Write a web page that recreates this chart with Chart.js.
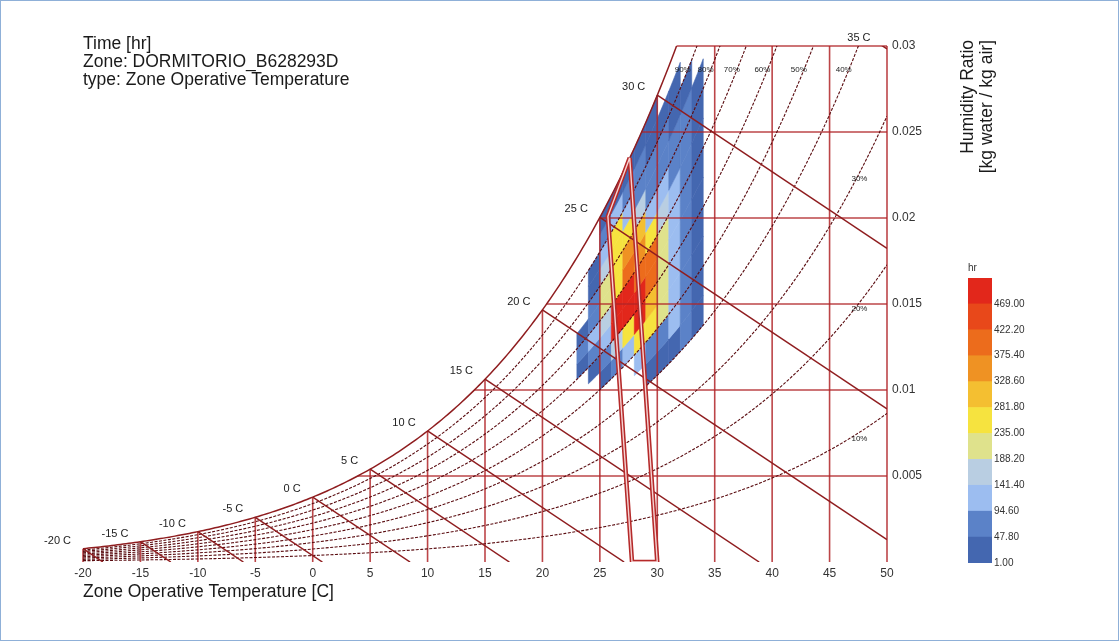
<!DOCTYPE html>
<html>
<head>
<meta charset="utf-8">
<title>Psychrometric chart</title>
<script src="https://cdn.jsdelivr.net/npm/chart.js@4.4.1/dist/chart.umd.min.js"></script>
<style>
    html, body { margin: 0; padding: 0; background: #fff; }
    #wrap { position: relative; width: 1119px; height: 641px; overflow: hidden; }
    #wrap canvas { position: absolute; }
    #main { left: 0; top: 0; }
    #scale { left: 955px; top: 258px; }
    #frame { position: absolute; left: 0; top: 0; width: 1119px; height: 641px; box-sizing: border-box; border: 1px solid #8fb0d8; pointer-events: none; }
</style>
</head>
<body>
<div id="wrap">
    <canvas id="main" width="1119" height="641"></canvas>
    <canvas id="scale" width="92" height="313"></canvas>
    <div id="frame"></div>
</div>
<script>
// axes
var xTicks = [-20, -15, -10, -5, 0, 5, 10, 15, 20, 25, 30, 35, 40, 45, 50];
var yTicks = [0.005, 0.01, 0.015, 0.02, 0.025, 0.03];

// psychrometric construction lines
var rhLevels = [10, 20, 30, 40, 50, 60, 70, 80, 90];
var dryBulbLines = [-20, -15, -10, -5, 0, 5, 10, 15, 20, 25, 30, 35, 40, 45];
var wetBulbLines = [-20, -15, -10, -5, 0, 5, 10, 15, 20, 25, 30, 35];

// comfort zone outline (operative temp, humidity ratio)
var comfortT = [27.6, 25.7, 27.8, 30.0];
var comfortW = [0.0235, 0.0201, 0, 0];

// histogram bins: temperature columns x relative humidity rows
var tempEdges = [23, 24, 25, 26, 27, 28, 29, 30, 31, 32, 33, 34];
var rhEdges = [35, 40, 45, 50, 55, 60, 65, 70, 75, 80, 85, 90, 95, 100];
// hours per cell, one row per temperature bin, RH bins low -> high
var hours = [
    [0, 0, 0, 0, 0, 21, 63, 14, 0, 0, 0, 0, 0],
    [0, 0, 0, 0, 31, 72, 108, 83, 61, 38, 19, 0, 0],
    [0, 0, 0, 22, 63, 104, 152, 203, 232, 171, 118, 77, 28],
    [0, 0, 0, 71, 152, 486, 472, 262, 268, 251, 247, 96, 24],
    [0, 0, 0, 121, 253, 503, 481, 391, 362, 263, 132, 69, 22],
    [0, 0, 109, 244, 478, 489, 412, 368, 302, 153, 89, 58, 19],
    [0, 31, 82, 252, 304, 392, 381, 262, 139, 88, 61, 38, 14],
    [0, 36, 91, 208, 221, 226, 214, 162, 108, 71, 49, 21, 0],
    [0, 41, 103, 118, 129, 138, 124, 116, 82, 59, 38, 14, 0],
    [0, 57, 73, 69, 82, 77, 71, 68, 62, 52, 19, 0, 0],
    [0, 22, 38, 41, 35, 29, 33, 27, 18, 11, 0, 0, 0]
];

// colour scale
var legendTicks = [1, 47.8, 94.6, 141.4, 188.2, 235, 281.8, 328.6, 375.4, 422.2, 469];
var legendColors = ['#4467b0', '#5b82c8', '#9cbdf0', '#b9cee2', '#dfe28c', '#f6e33f',
    '#f4bf31', '#ef9223', '#ec6c1c', '#e8481a', '#e2271b'];
var LEGEND_STEP = legendTicks[1] - legendTicks[0];

Chart.defaults.font.family = "'Liberation Sans', Arial, sans-serif";

var P_ATM = 101325;
var WB_SLOPE = 1.006 / 2260;
var GRID_RED = 'rgba(176,36,40,0.85)';

function satW(t) {
    var pws = 610.94 * Math.exp(17.625 * t / (t + 243.04));
    return 0.621945 * pws / (P_ATM - pws);
}

function tempAt(w, rh) {
    var lo = -40, hi = 80;
    for (var i = 0; i < 60; i++) {
        var mid = (lo + hi) / 2;
        if (rh * satW(mid) < w) lo = mid; else hi = mid;
    }
    return (lo + hi) / 2;
}

function heatColor(v) {
    var i = Math.floor((v - legendTicks[0]) / LEGEND_STEP);
    return legendColors[Math.max(0, Math.min(legendColors.length - 1, i))];
}

function line(points, color, width, dash, order, clip) {
    return {
        data: points,
        showLine: true,
        borderColor: color,
        borderWidth: width,
        borderDash: dash || [],
        pointRadius: 0,
        fill: false,
        tension: 0,
        order: order,
        clip: clip === undefined ? 0 : clip
    };
}

var datasets = [];

// comfort zone, drawn twice for the double-line look
var comfortPts = comfortT.map(function (t, i) { return {x: t, y: comfortW[i]}; });
comfortPts.push(comfortPts[0]);
datasets.push(line(comfortPts, '#f6d3d3', 1.4, null, 0));
datasets.push(line(comfortPts, '#b52a2a', 4.5, null, 1));

// relative humidity curves
rhLevels.forEach(function (rh) {
    var pts = [];
    for (var t = -20; t <= 50; t += 0.5) pts.push({x: t, y: rh / 100 * satW(t)});
    datasets.push(line(pts, '#5a0c10', 1.1, [3, 1.5], 3));
});

// saturation curve
var satPts = [];
for (var t = -20; t <= 33; t += 0.25) satPts.push({x: t, y: satW(t)});
datasets.push(line(satPts, '#8f1d1f', 1.5, null, 2));

// dry bulb verticals
dryBulbLines.forEach(function (t) {
    datasets.push(line([{x: t, y: 0}, {x: t, y: Math.min(satW(t), 0.03)}], GRID_RED, 1.6, null, 4, 2));
});
datasets.push(line([{x: 50, y: 0}, {x: 50, y: 0.03}], GRID_RED, 1.6, null, 4, 2));

// humidity ratio horizontals
yTicks.forEach(function (w) {
    datasets.push(line([{x: tempAt(w, 1), y: w}, {x: 50, y: w}], GRID_RED, 1.6, null, 4, 2));
});

// wet bulb lines
wetBulbLines.forEach(function (t) {
    var ws = satW(t);
    var tEnd = Math.min(50, t + ws / WB_SLOPE);
    datasets.push(line([{x: t, y: ws}, {x: tEnd, y: ws - WB_SLOPE * (tEnd - t)}], '#8f1d1f', 1.5, null, 2));
});

var heatmapPlugin = {
    id: 'heatmap',
    beforeDatasetsDraw: function (chart) {
        var ctx = chart.ctx, area = chart.chartArea;
        var xs = chart.scales.x, ys = chart.scales.y;
        ctx.save();
        ctx.beginPath();
        ctx.rect(area.left, area.top, area.right - area.left, area.bottom - area.top);
        ctx.clip();
        hours.forEach(function (row, i) {
            var t0 = tempEdges[i], t1 = tempEdges[i + 1];
            row.forEach(function (v, j) {
                if (!v) return;
                var r0 = rhEdges[j] / 100, r1 = rhEdges[j + 1] / 100;
                ctx.beginPath();
                for (var k = 0; k <= 6; k++) {
                    var t = t0 + (t1 - t0) * k / 6;
                    var px = xs.getPixelForValue(t), py = ys.getPixelForValue(r0 * satW(t));
                    if (k === 0) ctx.moveTo(px, py); else ctx.lineTo(px, py);
                }
                for (var k2 = 6; k2 >= 0; k2--) {
                    var t2 = t0 + (t1 - t0) * k2 / 6;
                    ctx.lineTo(xs.getPixelForValue(t2), ys.getPixelForValue(r1 * satW(t2)));
                }
                ctx.closePath();
                ctx.fillStyle = heatColor(v);
                ctx.strokeStyle = heatColor(v);
                ctx.lineWidth = 0.6;
                ctx.fill();
                ctx.stroke();
            });
        });
        ctx.restore();
    }
};

var labelPlugin = {
    id: 'labels',
    afterDatasetsDraw: function (chart) {
        var ctx = chart.ctx, area = chart.chartArea;
        var xs = chart.scales.x, ys = chart.scales.y;
        var fam = Chart.defaults.font.family;
        ctx.save();
        ctx.fillStyle = '#222';
        ctx.textBaseline = 'middle';

        // saturation temperature labels
        ctx.font = '11px ' + fam;
        ctx.textAlign = 'right';
        wetBulbLines.forEach(function (t) {
            var ws = satW(t), tx = t, wy = ws;
            if (ws > 0.03) { tx = t + (ws - 0.03) / WB_SLOPE; wy = 0.03; }
            ctx.fillText(t + ' C', xs.getPixelForValue(tx) - 12, ys.getPixelForValue(wy) - 8);
        });

        // relative humidity labels
        ctx.font = '8px ' + fam;
        ctx.textAlign = 'center';
        rhLevels.forEach(function (rh) {
            if (rh >= 40) {
                var tt = tempAt(0.0286, rh / 100);
                ctx.fillText(rh + '%', xs.getPixelForValue(tt) - 5, ys.getPixelForValue(0.0286));
            } else {
                ctx.fillText(rh + '%', xs.getPixelForValue(47.6), ys.getPixelForValue(rh / 100 * satW(47.6)) + 6);
            }
        });

        // header text
        ctx.font = '17.5px ' + fam;
        ctx.textAlign = 'left';
        ctx.fillStyle = '#1a1a1a';
        ['Time [hr]', 'Zone: DORMITORIO_B628293D', 'type: Zone Operative Temperature'].forEach(function (s, i) {
            ctx.fillText(s, area.left, 44 + i * 18);
        });

        // humidity ratio axis title, rotated
        ['Humidity Ratio', '[kg water / kg air]'].forEach(function (s, i) {
            ctx.save();
            ctx.translate(968 + i * 19, 40);
            ctx.rotate(-Math.PI / 2);
            ctx.textAlign = 'right';
            ctx.fillText(s, 0, 0);
            ctx.restore();
        });
        ctx.restore();
    }
};

new Chart(document.getElementById('main'), {
    type: 'scatter',
    data: {datasets: datasets},
    options: {
        responsive: false,
        animation: false,
        devicePixelRatio: 1,
        layout: {padding: {left: 83, top: 46, right: 182, bottom: 34}},
        plugins: {
            legend: {display: false},
            tooltip: {enabled: false}
        },
        scales: {
            x: {
                type: 'linear',
                min: -20,
                max: 50,
                grid: {display: false, drawTicks: false},
                border: {display: false},
                ticks: {padding: 4, color: '#333', font: {size: 12}, maxRotation: 0},
                afterBuildTicks: function (s) { s.ticks = xTicks.map(function (v) { return {value: v}; }); },
                afterFit: function (s) { s.height = 45; },
                title: {
                    display: true,
                    text: 'Zone Operative Temperature [C]',
                    align: 'start',
                    color: '#1a1a1a',
                    font: {size: 17.5},
                    padding: {top: 0, bottom: 4}
                }
            },
            y: {
                type: 'linear',
                position: 'right',
                min: 0,
                max: 0.03,
                grid: {display: false, drawTicks: false},
                border: {display: false},
                ticks: {
                    padding: 5,
                    color: '#333',
                    font: {size: 12},
                    callback: function (v) { return String(v); }
                },
                afterBuildTicks: function (s) { s.ticks = yTicks.map(function (v) { return {value: v}; }); },
                afterFit: function (s) { s.width = 50; }
            }
        }
    },
    plugins: [heatmapPlugin, labelPlugin]
});

// colour bar
new Chart(document.getElementById('scale'), {
    type: 'bar',
    data: {
        labels: ['hr'],
        datasets: legendColors.map(function (c, i) {
            return {
                data: [[legendTicks[i], legendTicks[i] + LEGEND_STEP]],
                backgroundColor: c,
                borderWidth: 0,
                barPercentage: 1,
                categoryPercentage: 1
            };
        })
    },
    options: {
        responsive: false,
        animation: false,
        devicePixelRatio: 1,
        layout: {padding: {left: 13, right: 0, top: 0, bottom: 8}},
        plugins: {
            legend: {display: false},
            tooltip: {enabled: false},
            title: {
                display: true,
                text: 'hr',
                align: 'start',
                color: '#333',
                font: {size: 10, weight: 'normal'},
                padding: {top: 4, bottom: 4}
            }
        },
        scales: {
            x: {display: false, stacked: true},
            y: {
                position: 'right',
                min: legendTicks[0],
                max: legendTicks[legendTicks.length - 1] + LEGEND_STEP,
                grid: {display: false, drawTicks: false},
                border: {display: false},
                ticks: {
                    padding: 2,
                    color: '#333',
                    font: {size: 10},
                    callback: function (v) { return v.toFixed(2); }
                },
                afterBuildTicks: function (s) { s.ticks = legendTicks.map(function (v) { return {value: v}; }); },
                afterFit: function (s) { s.width = 55; }
            }
        }
    }
});
</script>
</body>
</html>
